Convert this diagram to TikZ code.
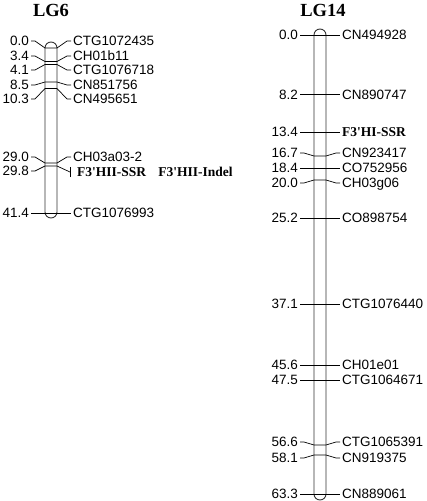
\documentclass[tikz,border=0pt]{standalone}
\usepackage{fontspec}
\setsansfont{Liberation Sans}
\newfontfamily\mapserif{Liberation Serif}
\tikzset{
  num/.style={anchor=east, inner sep=2pt, font=\sffamily\fontsize{13.5}{14}\selectfont, text height=9.7pt, text depth=0pt},
  mrk/.style={anchor=west, inner sep=2pt, font=\sffamily\fontsize{13.5}{14}\selectfont, text height=9.7pt, text depth=0pt},
  key/.style={mrk, font=\mapserif\bfseries\fontsize{13.5}{14}\selectfont},
  lgtitle/.style={font=\mapserif\bfseries\fontsize{18.5}{20}\selectfont},
  chrom/.style={draw=black!80, line width=0.9pt, rounded corners=6pt},
  tick/.style={line width=0.7pt}
}
\begin{document}
\begin{tikzpicture}[x=1pt, y=-1pt]
\useasboundingbox (0,0) rectangle (427,501);

\node[lgtitle] (t6) at (51,10) {LG6};
\node[lgtitle] (t14) at (323,10) {LG14};

\draw[chrom] (45,42) rectangle (57,218);
\draw[chrom] (314,29) rectangle (326,500);

\node[num] (a1) at (31,41) {0.0};   \node[mrk] (b1) at (71,41) {CTG1072435};
\node[num] (a2) at (31,56) {3.4};   \node[mrk] (b2) at (71,56) {CH01b11};
\node[num] (a3) at (31,70) {4.1};   \node[mrk] (b3) at (71,70) {CTG1076718};
\node[num] (a4) at (31,85) {8.5};   \node[mrk] (b4) at (71,85) {CN851756};
\node[num] (a5) at (31,99) {10.3};  \node[mrk] (b5) at (71,99) {CN495651};
\node[num] (a6) at (31,157) {29.0}; \node[mrk] (b6) at (71,157) {CH03a03-2};
\node[num] (a7) at (31,171) {29.8}; \node[key] (b7) at (75,172) {F3\textquotesingle HII-SSR\hspace{0.9em}F3\textquotesingle HII-Indel};
\node[num] (a8) at (31,213) {41.4}; \node[mrk] (b8) at (71,213) {CTG1076993};
\coordinate (k7) at (70,172);

\draw[tick] (a1.east) -- ++(4,0) -- (45,48) -- (57,48) -- (67,41) -- (b1.west);
\draw[tick] (a2.east) -- ++(4,0) -- (45,61.5) -- (57,61.5) -- (67,56) -- (b2.west);
\draw[tick] (a3.east) -- ++(4,0) -- (45,64.5) -- (57,64.5) -- (67,70) -- (b3.west);
\draw[tick] (a4.east) -- ++(4,0) -- (45,82) -- (57,82) -- (67,85) -- (b4.west);
\draw[tick] (a5.east) -- ++(4,0) -- (45,88.5) -- (57,88.5) -- (67,99) -- (b5.west);
\draw[tick] (a6.east) -- ++(4,0) -- (45,163) -- (57,163) -- (67,157) -- (b6.west);
\draw[tick] (a7.east) -- ++(4,0) -- (45,166) -- (57,166) -- (k7);
\draw[tick] ([yshift=-5]k7) -- ([yshift=5]k7);
\draw[tick] (a8.east) -- (b8.west);

\node[num] (c1) at (300,35) {0.0};    \node[mrk] (d1) at (340,35) {CN494928};
\node[num] (c2) at (300,94.5) {8.2};  \node[mrk] (d2) at (340,94.5) {CN890747};
\node[num] (c3) at (300,132) {13.4};  \node[key] (d3) at (340,132) {F3\textquotesingle HI-SSR};
\node[num] (c4) at (300,153) {16.7};  \node[mrk] (d4) at (340,153) {CN923417};
\node[num] (c5) at (300,168) {18.4};  \node[mrk] (d5) at (340,168) {CO752956};
\node[num] (c6) at (300,183) {20.0};  \node[mrk] (d6) at (340,183) {CH03g06};
\node[num] (c7) at (300,218) {25.2};  \node[mrk] (d7) at (340,218) {CO898754};
\node[num] (c8) at (300,304) {37.1};  \node[mrk] (d8) at (340,304) {CTG1076440};
\node[num] (c9) at (300,365) {45.6};  \node[mrk] (d9) at (340,365) {CH01e01};
\node[num] (c10) at (300,380) {47.5}; \node[mrk] (d10) at (340,380) {CTG1064671};
\node[num] (c11) at (300,442) {56.6}; \node[mrk] (d11) at (340,442) {CTG1065391};
\node[num] (c12) at (300,458) {58.1}; \node[mrk] (d12) at (340,458) {CN919375};
\node[num] (c13) at (300,494) {63.3}; \node[mrk] (d13) at (340,494) {CN889061};

\draw[tick] (c1.east) -- (d1.west);
\draw[tick] (c2.east) -- (d2.west);
\draw[tick] (c3.east) -- (d3.west);
\draw[tick] (c4.east) -- ++(4,0) -- (314,156) -- (326,156) -- (336,153) -- (d4.west);
\draw[tick] (c5.east) -- (d5.west);
\draw[tick] (c6.east) -- ++(4,0) -- (314,180) -- (326,180) -- (336,183) -- (d6.west);
\draw[tick] (c7.east) -- (d7.west);
\draw[tick] (c8.east) -- (d8.west);
\draw[tick] (c9.east) -- (d9.west);
\draw[tick] (c10.east) -- (d10.west);
\draw[tick] (c11.east) -- ++(4,0) -- (314,445) -- (326,445) -- (336,442) -- (d11.west);
\draw[tick] (c12.east) -- ++(4,0) -- (314,455) -- (326,455) -- (336,458) -- (d12.west);
\draw[tick] (c13.east) -- (d13.west);
\end{tikzpicture}
\end{document}
